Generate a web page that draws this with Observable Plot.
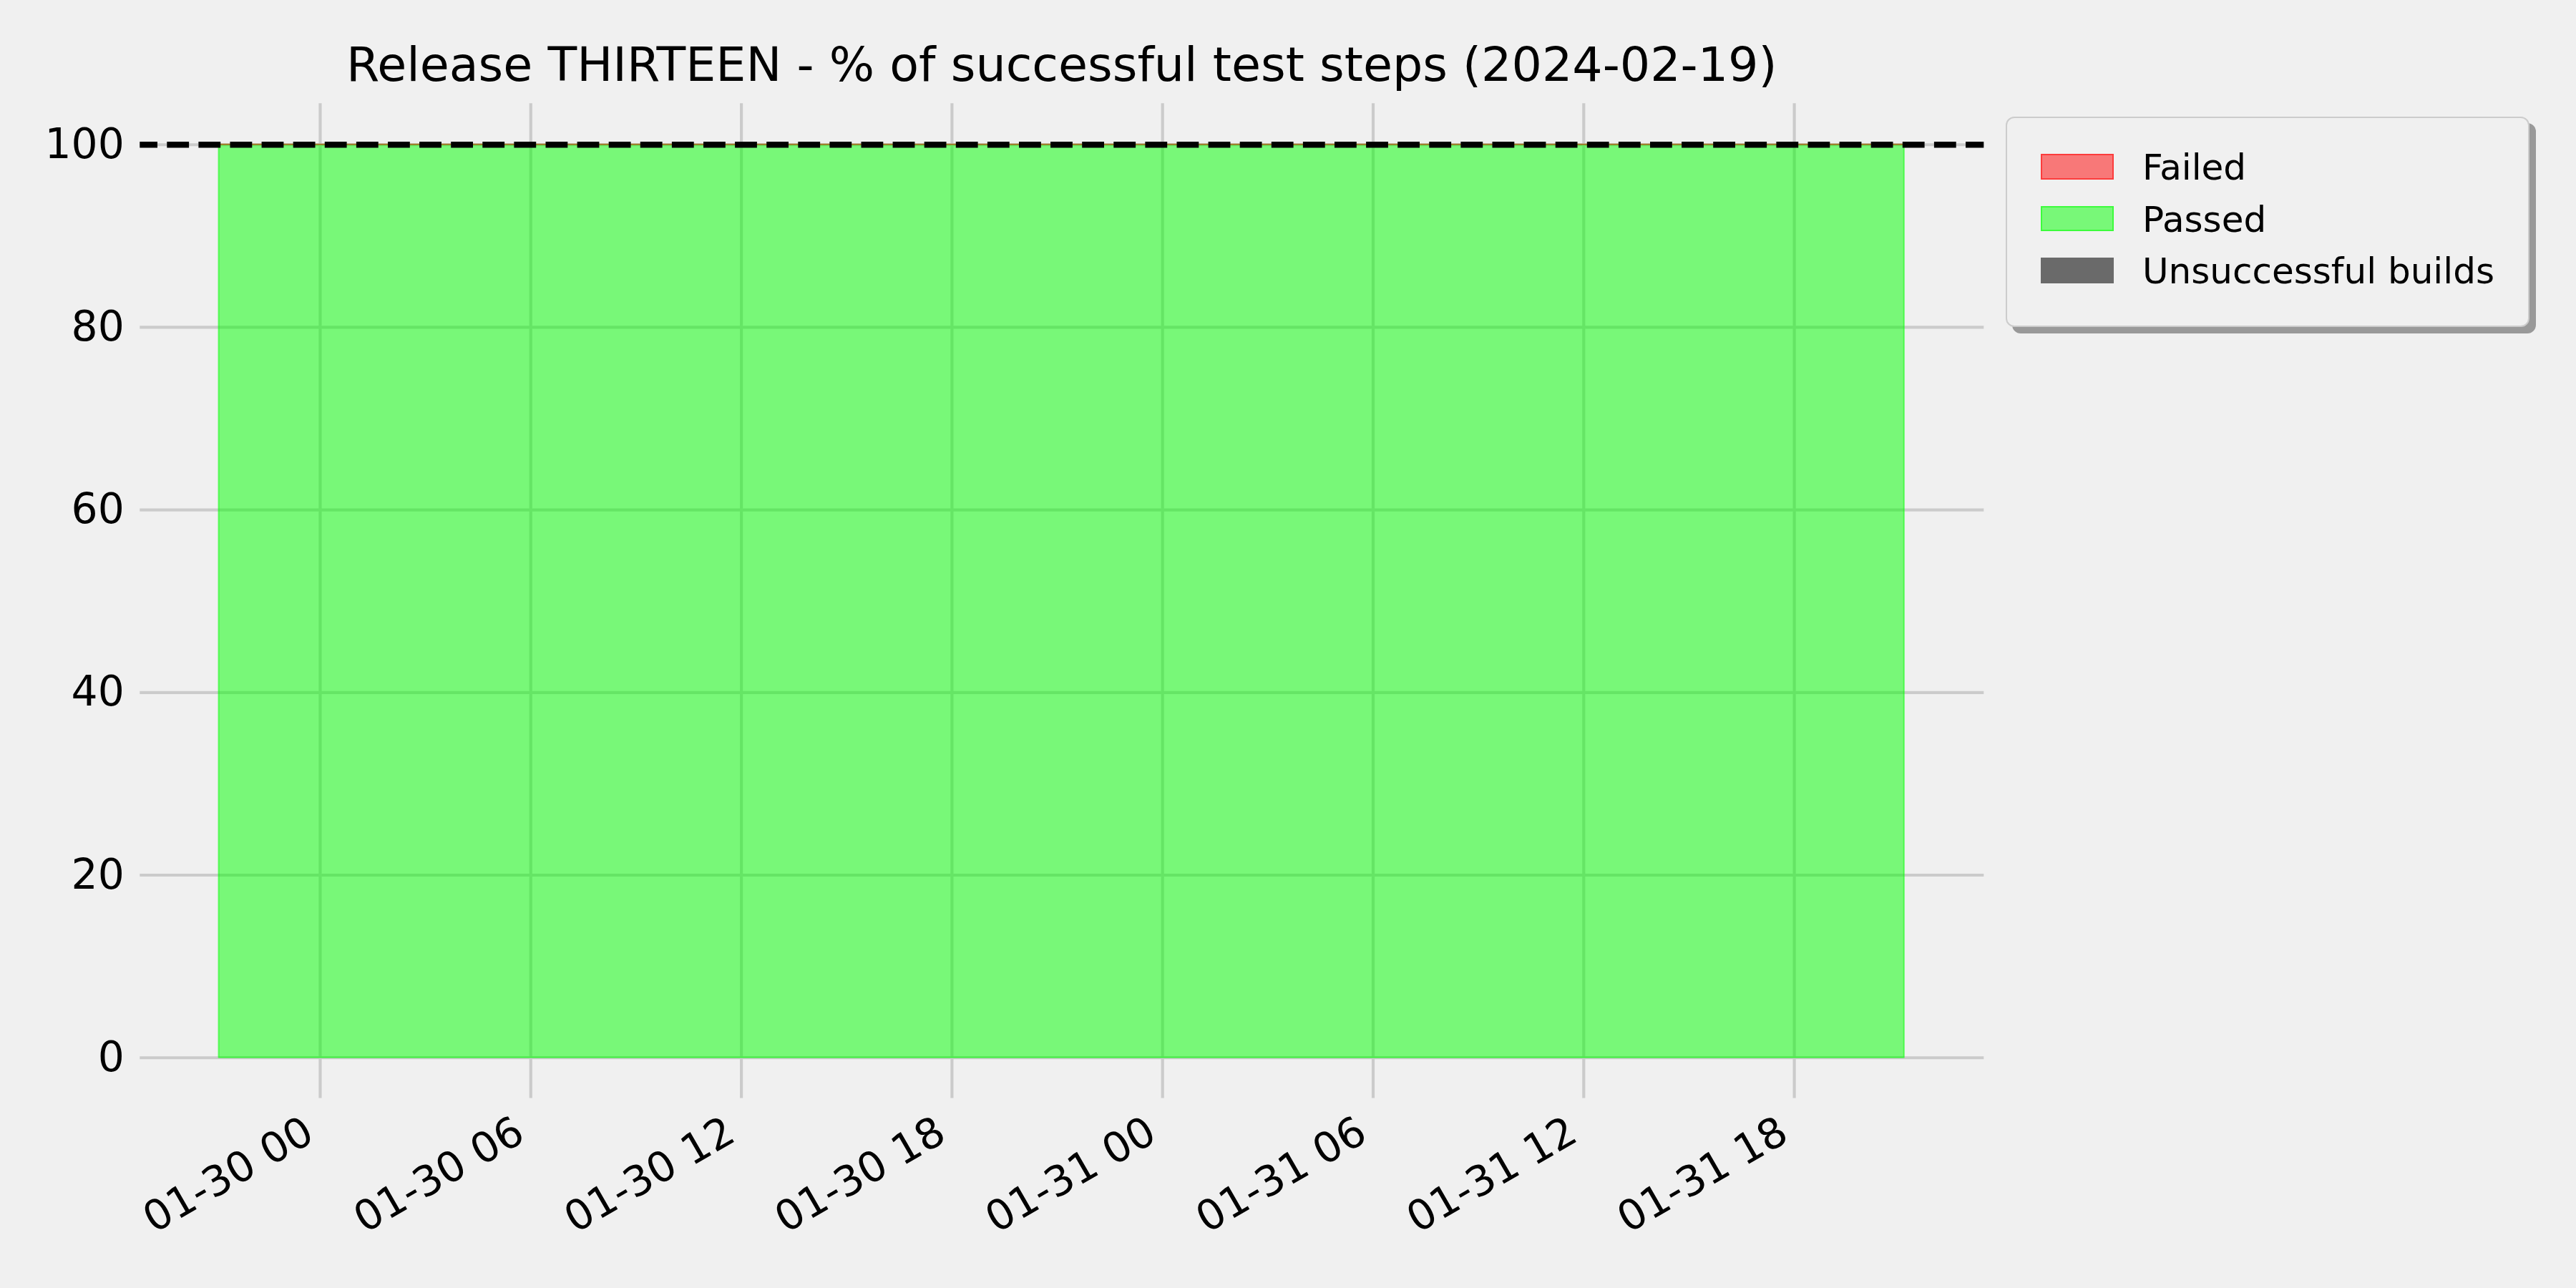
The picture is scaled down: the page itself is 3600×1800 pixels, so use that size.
<!DOCTYPE html>
<html>
<head>
<meta charset="utf-8">
<script src="https://cdn.jsdelivr.net/npm/d3@7"></script>
<script src="https://cdn.jsdelivr.net/npm/@observablehq/plot@0.6"></script>
<style>
  html, body { margin: 0; padding: 0; background: #f0f0f0; }
  #wrap { position: relative; width: 3600px; height: 1800px; background: #f0f0f0; font-family: "DejaVu Sans", sans-serif; overflow: hidden; }
  #wrap svg { position: absolute; left: 0; top: 0; }
  #title { position: absolute; left: 483.7px; width: 2000px; top: 56.6px; text-align: center; font-size: 66.67px; line-height: 1; color: #000; white-space: nowrap; }
  #legend { position: absolute; left: 2803px; top: 163px; width: 732px; height: 294px; box-sizing: border-box; border: 2.5px solid #cccccc; border-radius: 12px; background: #f0f0f0; box-shadow: 9px 9px 0 #999999; }
  .lg-patch { position: absolute; left: 46.5px; width: 102px; height: 35.5px; box-sizing: border-box; border-style: solid; border-width: 2px; }
  .lg-text { position: absolute; left: 189px; font-size: 50px; line-height: 1; color: #000; white-space: nowrap; }
</style>
</head>
<body>
<div id="wrap">
  <div id="title"></div>
  <div id="legend"></div>
</div>
<script>
// ---- data ----
const chartTitle = "Release THIRTEEN - % of successful test steps (2024-02-19)";
const buildTimes = ["2024-01-29T21:07", "2024-01-30T21:07", "2024-01-31T21:08"];
const passedPct = [100, 100, 100];
const failedPct = [0, 0, 0];
const unsuccessfulBuilds = [0, 0, 0];
const yTicks = [0, 20, 40, 60, 80, 100];
const xTicks = ["2024-01-30T00:00", "2024-01-30T06:00", "2024-01-30T12:00", "2024-01-30T18:00",
                "2024-01-31T00:00", "2024-01-31T06:00", "2024-01-31T12:00", "2024-01-31T18:00"];
const xDomain = ["2024-01-29T18:52:08", "2024-01-31T23:24:24"];
const yDomain = [-4.45, 104.5];
const targetLine = [100];
const legendLabels = ["Failed", "Passed", "Unsuccessful builds"];
const legendFills = ["rgba(255,0,0,0.5)", "rgba(0,255,0,0.5)", "#6a6a6a"];
const legendEdges = ["rgba(255,0,0,0.5)", "rgba(0,255,0,0.5)", "#6a6a6a"];

// ---- build ----
const utc = s => new Date(s + "Z");
const data = buildTimes.map((t, i) => ({
  time: utc(t), passed: passedPct[i], failed: failedPct[i], unsuccessful: unsuccessfulBuilds[i]
}));
const ticksX = xTicks.map(utc);

const chart = Plot.plot({
  width: 3600,
  height: 1800,
  marginLeft: 195.3,
  marginRight: 827.7,
  marginTop: 144.3,
  marginBottom: 265.5,
  style: { background: "transparent", fontFamily: "DejaVu Sans", fontSize: "58.33px", color: "#000", overflow: "visible" },
  x: { type: "utc", domain: xDomain.map(utc), label: null },
  y: { domain: yDomain, label: null },
  marks: [
    Plot.gridY(yTicks, { stroke: "#cbcbcb", strokeOpacity: 1, strokeWidth: 4.17 }),
    Plot.gridX(ticksX, { stroke: "#cbcbcb", strokeOpacity: 1, strokeWidth: 4.17 }),
    Plot.areaY(data, { x: "time", y1: 0, y2: "passed", fill: "#00ff00", fillOpacity: 0.5, stroke: "#00ff00", strokeOpacity: 0.5, strokeWidth: 2.08 }),
    Plot.areaY(data, { x: "time", y1: "passed", y2: d => d.passed + d.failed, fill: "#ff0000", fillOpacity: 0.5, stroke: "#ff0000", strokeOpacity: 0.5, strokeWidth: 2.08 }),
    Plot.ruleX(data.filter(d => d.unsuccessful > 0), { x: "time", y1: 0, y2: 100, stroke: "#6a6a6a", strokeWidth: 20 }),
    Plot.ruleY(targetLine, { stroke: "#000", strokeWidth: 8.33, strokeDasharray: "30.8,13.3", strokeDashoffset: 6.1 }),
    Plot.axisY(yTicks, { tickSize: 0, tickPadding: 22, fontSize: 58.33, fill: "#000" }),
    Plot.axisX(ticksX, { tickSize: 0, tickRotate: -30, textAnchor: "end", lineAnchor: "top", tickPadding: 22, dx: -26, fontSize: 58.33, fill: "#000", tickFormat: d3.utcFormat("%m-%d %H") })
  ]
});

const wrap = document.getElementById("wrap");
wrap.insertBefore(chart, wrap.firstChild);
document.getElementById("title").textContent = chartTitle;

const legend = document.getElementById("legend");
legendLabels.forEach((label, i) => {
  const p = document.createElement("div");
  p.className = "lg-patch";
  p.style.top = (50.2 + 72.6 * i) + "px";
  p.style.background = legendFills[i];
  p.style.borderColor = legendEdges[i];
  legend.appendChild(p);
  const t = document.createElement("div");
  t.className = "lg-text";
  t.style.top = (44.2 + 72.6 * i) + "px";
  t.textContent = label;
  legend.appendChild(t);
});
</script>
</body>
</html>
